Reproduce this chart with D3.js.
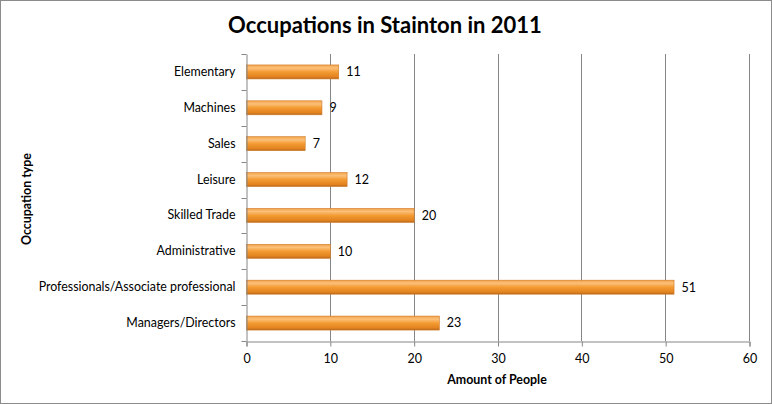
<!DOCTYPE html>
<html>
<head>
<meta charset="utf-8">
<script src="https://cdn.jsdelivr.net/npm/d3@7"></script>
<style>
  body { margin: 0; background: #fff; }
  text { font-family: Lato, "Open Sans", sans-serif; fill: #000; }
</style>
</head>
<body>
<div id="chart"></div>
<script>
// chart data
const categories = ["Elementary", "Machines", "Sales", "Leisure", "Skilled Trade",
  "Administrative", "Professionals/Associate professional", "Managers/Directors"]
const people = [11, 9, 7, 12, 20, 10, 51, 23]
const xTicks = [0, 10, 20, 30, 40, 50, 60]

function drawChart() {
  const width = 772
  const height = 404
  const margin = {top: 54, right: 23, bottom: 63, left: 246}

  const svg = d3.select("#chart").append("svg")
      .attr("width", width)
      .attr("height", height)

  // outer frame
  svg.append("rect")
      .attr("x", 0.5).attr("y", 0.5)
      .attr("width", width - 1).attr("height", height - 1)
      .attr("fill", "#fff").attr("stroke", "#8c8c8c")

  const defs = svg.append("defs")
  const grad = defs.append("linearGradient")
      .attr("id", "barGrad").attr("x1", 0).attr("y1", 0).attr("x2", 0).attr("y2", 1)
  grad.append("stop").attr("offset", "0%").attr("stop-color", "#f4a248")
  grad.append("stop").attr("offset", "22%").attr("stop-color", "#fbc07a")
  grad.append("stop").attr("offset", "50%").attr("stop-color", "#f49b32")
  grad.append("stop").attr("offset", "85%").attr("stop-color", "#e2831f")
  grad.append("stop").attr("offset", "100%").attr("stop-color", "#b7671c")

  const x = d3.scaleLinear()
      .domain([0, 60])
      .range([margin.left, width - margin.right])

  const y = d3.scaleBand()
      .domain(categories)
      .range([margin.top, height - margin.bottom])
      .paddingInner(0.61)
      .paddingOuter(0.305)

  // gridlines
  svg.append("g")
    .selectAll("line")
    .data(xTicks.slice(1))
    .join("line")
      .attr("x1", d => Math.round(x(d)) + 0.5)
      .attr("x2", d => Math.round(x(d)) + 0.5)
      .attr("y1", margin.top)
      .attr("y2", height - margin.bottom)
      .attr("stroke", "#868686")

  // bars
  const rows = categories.map((c, i) => ({cat: c, val: people[i]}))
  svg.append("g")
    .selectAll("rect")
    .data(rows)
    .join("rect")
      .attr("x", x(0) + 0.5)
      .attr("y", d => y(d.cat))
      .attr("width", d => x(d.val) - x(0))
      .attr("height", y.bandwidth())
      .attr("fill", "url(#barGrad)")
      .attr("stroke", "#cf7a25")
      .attr("stroke-width", 0.6)

  // value labels
  svg.append("g")
    .selectAll("text")
    .data(rows)
    .join("text")
      .attr("x", d => x(d.val) + 8)
      .attr("y", d => y(d.cat) + y.bandwidth() / 2)
      .attr("dy", "0.35em")
      .attr("font-size", 12.5)
      .text(d => d.val)

  // x axis
  const xAxis = svg.append("g")
      .attr("transform", `translate(0.5,${height - margin.bottom + 0.5})`)
      .call(d3.axisBottom(x).tickValues(xTicks).tickSize(5).tickPadding(8))
  xAxis.select(".domain").attr("stroke", "#868686")
  xAxis.selectAll(".tick line").attr("stroke", "#868686")
  xAxis.selectAll("text").attr("font-size", 12.5).attr("font-family", "Lato, 'Open Sans', sans-serif")

  // y axis
  const yAxis = svg.append("g")
      .attr("transform", `translate(${margin.left + 0.5},0)`)
      .call(d3.axisLeft(y).tickSize(0).tickPadding(11))
  yAxis.select(".domain").attr("stroke", "#868686")
  yAxis.selectAll("text").attr("font-size", 12.4).attr("font-family", "Lato, 'Open Sans', sans-serif")
  // ticks at band boundaries
  const bounds = d3.range(categories.length + 1).map(i => margin.top + i * y.step())
  yAxis.selectAll(".bound")
    .data(bounds)
    .join("line")
      .attr("class", "bound")
      .attr("x1", -5).attr("x2", 0)
      .attr("y1", d => Math.round(d) + 0.5).attr("y2", d => Math.round(d) + 0.5)
      .attr("stroke", "#868686")

  // titles
  svg.append("text")
      .attr("x", 385).attr("y", 33)
      .attr("text-anchor", "middle")
      .attr("font-size", 22)
      .attr("font-weight", "bold")
      .text("Occupations in Stainton in 2011")

  svg.append("text")
      .attr("x", 497).attr("y", 384)
      .attr("text-anchor", "middle")
      .attr("font-size", 12.4)
      .attr("font-weight", "bold")
      .text("Amount of People")

  svg.append("text")
      .attr("transform", "translate(31,199) rotate(-90)")
      .attr("text-anchor", "middle")
      .attr("font-size", 12.4)
      .attr("font-weight", "bold")
      .text("Occupation type")
}

window.onload = function () {
  drawChart()
}
</script>
</body>
</html>
